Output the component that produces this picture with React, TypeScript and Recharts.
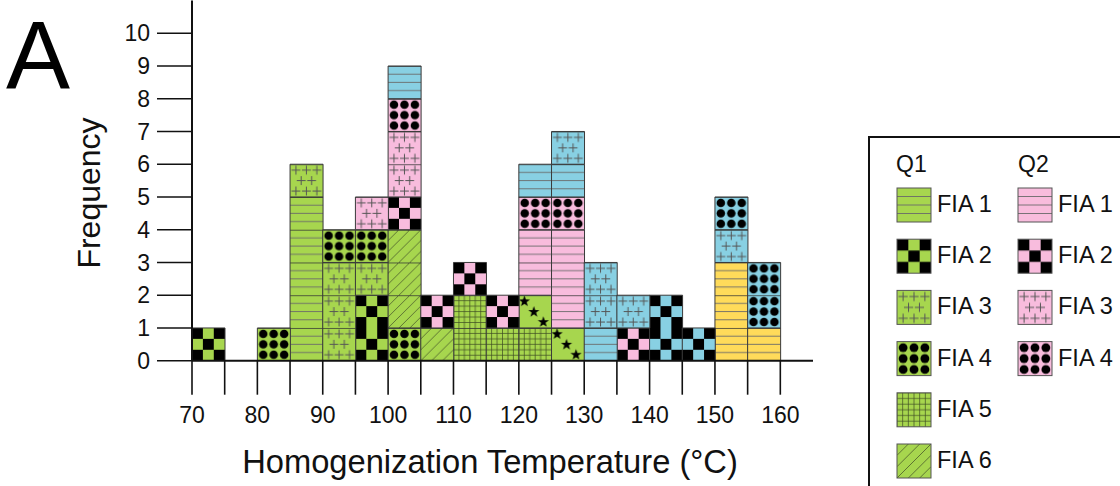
import React from 'react';
import { BarChart, Bar, XAxis, YAxis } from 'recharts';

// ---------------- data ----------------
const binStarts = [70, 75, 80, 85, 90, 95, 100, 105, 110, 115, 120, 125, 130, 135, 140, 145, 150, 155];
const binWidth = 5;
const xTickValues = [70, 75, 80, 85, 90, 95, 100, 105, 110, 115, 120, 125, 130, 135, 140, 145, 150, 155, 160];
const yTickValues = [0, 1, 2, 3, 4, 5, 6, 7, 8, 9, 10];

//                70 75 80 85 90 95 100 105 110 115 120 125 130 135 140 145 150 155
const q1Fia1 = [0, 0, 0, 5, 0, 0, 0, 0, 0, 0, 0, 0, 0, 0, 0, 0, 0, 0];
const q1Fia2 = [1, 0, 0, 0, 0, 2, 0, 0, 0, 0, 0, 0, 0, 0, 0, 0, 0, 0];
const q1Fia3 = [0, 0, 0, 1, 3, 1, 0, 0, 0, 0, 0, 0, 0, 0, 0, 0, 0, 0];
const q1Fia4 = [0, 0, 1, 0, 1, 1, 1, 0, 0, 0, 0, 0, 0, 0, 0, 0, 0, 0];
const q1Fia5 = [0, 0, 0, 0, 0, 0, 0, 0, 2, 1, 1, 0, 0, 0, 0, 0, 0, 0];
const q1Fia6 = [0, 0, 0, 0, 0, 0, 3, 1, 0, 0, 0, 0, 0, 0, 0, 0, 0, 0];
const q1Fia7 = [0, 0, 0, 0, 0, 0, 0, 0, 0, 0, 1, 1, 0, 0, 0, 0, 0, 0];
const q2Fia1 = [0, 0, 0, 0, 0, 0, 0, 0, 0, 0, 2, 3, 0, 0, 0, 0, 0, 0];
const q2Fia2 = [0, 0, 0, 0, 0, 0, 1, 1, 1, 1, 0, 0, 0, 1, 0, 0, 0, 0];
const q2Fia3 = [0, 0, 0, 0, 0, 1, 2, 0, 0, 0, 0, 0, 0, 0, 0, 0, 0, 0];
const q2Fia4 = [0, 0, 0, 0, 0, 0, 1, 0, 0, 0, 1, 1, 0, 0, 0, 0, 0, 0];
const q3Fia1 = [0, 0, 0, 0, 0, 0, 0, 0, 0, 0, 0, 0, 0, 0, 0, 0, 3, 1];
const q4Fia1 = [0, 0, 0, 0, 0, 0, 1, 0, 0, 0, 1, 1, 1, 0, 0, 0, 0, 0];
const q4Fia2 = [0, 0, 0, 0, 0, 0, 0, 0, 0, 0, 0, 0, 0, 0, 2, 1, 0, 0];
const q4Fia3 = [0, 0, 0, 0, 0, 0, 0, 0, 0, 0, 0, 1, 2, 1, 0, 0, 1, 0];
const q4Fia4 = [0, 0, 0, 0, 0, 0, 0, 0, 0, 0, 0, 0, 0, 0, 0, 0, 1, 2];

const legendQ1Keys = ['q1Fia1', 'q1Fia2', 'q1Fia3', 'q1Fia4', 'q1Fia5', 'q1Fia6'];
const legendQ2Keys = ['q2Fia1', 'q2Fia2', 'q2Fia3', 'q2Fia4'];
const legendQ1Labels = ['FIA 1', 'FIA 2', 'FIA 3', 'FIA 4', 'FIA 5', 'FIA 6'];
const legendQ2Labels = ['FIA 1', 'FIA 2', 'FIA 3', 'FIA 4'];

// ---------------- styles ----------------
const GREEN = '#a7d64e';
const PINK = '#f8bcdd';
const YELLOW = '#ffdb5a';
const BLUE = '#88d0e3';

type Kind = 'lines' | 'checker' | 'plus' | 'dots' | 'grid' | 'hatch' | 'stars';

const seriesList: { key: string; name: string; values: number[]; kind: Kind; color: string }[] = [
  { key: 'q1Fia1', name: 'Q1 FIA 1', values: q1Fia1, kind: 'lines', color: GREEN },
  { key: 'q1Fia2', name: 'Q1 FIA 2', values: q1Fia2, kind: 'checker', color: GREEN },
  { key: 'q1Fia3', name: 'Q1 FIA 3', values: q1Fia3, kind: 'plus', color: GREEN },
  { key: 'q1Fia4', name: 'Q1 FIA 4', values: q1Fia4, kind: 'dots', color: GREEN },
  { key: 'q1Fia5', name: 'Q1 FIA 5', values: q1Fia5, kind: 'grid', color: GREEN },
  { key: 'q1Fia6', name: 'Q1 FIA 6', values: q1Fia6, kind: 'hatch', color: GREEN },
  { key: 'q1Fia7', name: 'Q1 FIA 7', values: q1Fia7, kind: 'stars', color: GREEN },
  { key: 'q2Fia1', name: 'Q2 FIA 1', values: q2Fia1, kind: 'lines', color: PINK },
  { key: 'q2Fia2', name: 'Q2 FIA 2', values: q2Fia2, kind: 'checker', color: PINK },
  { key: 'q2Fia3', name: 'Q2 FIA 3', values: q2Fia3, kind: 'plus', color: PINK },
  { key: 'q2Fia4', name: 'Q2 FIA 4', values: q2Fia4, kind: 'dots', color: PINK },
  { key: 'q3Fia1', name: 'Q3 FIA 1', values: q3Fia1, kind: 'lines', color: YELLOW },
  { key: 'q4Fia1', name: 'Q4 FIA 1', values: q4Fia1, kind: 'lines', color: BLUE },
  { key: 'q4Fia2', name: 'Q4 FIA 2', values: q4Fia2, kind: 'checker', color: BLUE },
  { key: 'q4Fia3', name: 'Q4 FIA 3', values: q4Fia3, kind: 'plus', color: BLUE },
  { key: 'q4Fia4', name: 'Q4 FIA 4', values: q4Fia4, kind: 'dots', color: BLUE },
];

const table = binStarts.map((s, i) => {
  const row: Record<string, number> = { mid: s + binWidth / 2 };
  seriesList.forEach((sr) => {
    row[sr.key] = sr.values[i];
  });
  return row;
});

// ---------------- layout ----------------
const W = 1120;
const H = 486;
const PLOT_LEFT = 192;
const PLOT_RIGHT = 813;
const PLOT_TOP = 0.5;
const PLOT_BOTTOM = 360.7;
const X_DOMAIN: [number, number] = [70, 165];
const Y_DOMAIN: [number, number] = [0, 11];
const TILE_W = ((PLOT_RIGHT - PLOT_LEFT) * binWidth) / (X_DOMAIN[1] - X_DOMAIN[0]);
const TILE_H = (PLOT_BOTTOM - PLOT_TOP) / (Y_DOMAIN[1] - Y_DOMAIN[0]);
const FONT = '"Liberation Sans", Arial, Helvetica, sans-serif';

function starPath(cx: number, cy: number, R: number, r: number) {
  let d = '';
  for (let i = 0; i < 10; i++) {
    const ang = -Math.PI / 2 + (i * Math.PI) / 5;
    const rad = i % 2 === 0 ? R : r;
    d += (i === 0 ? 'M' : 'L') + (cx + rad * Math.cos(ang)).toFixed(2) + ',' + (cy + rad * Math.sin(ang)).toFixed(2);
  }
  return d + 'Z';
}

function tileContent(kind: Kind, color: string, w: number, h: number, withBorder: boolean) {
  const border = withBorder ? <line x1={0} y1={0} x2={w} y2={0} stroke="#333" strokeWidth={1.6} /> : null;
  const bg = <rect x={0} y={0} width={w} height={h} fill={color} />;
  switch (kind) {
    case 'lines':
      return (
        <>
          {bg}
          {[0.25, 0.5, 0.75].map((f) => (
            <line key={f} x1={0} x2={w} y1={h * f} y2={h * f} stroke="#6a6a6a" strokeWidth={0.9} />
          ))}
          {border}
        </>
      );
    case 'checker': {
      const cw = w / 3;
      const ch = h / 3;
      return (
        <>
          {bg}
          {[
            [0, 0],
            [2, 0],
            [1, 1],
            [0, 2],
            [2, 2],
          ].map(([i, j]) => (
            <rect key={`${i}-${j}`} x={i * cw} y={j * ch} width={cw} height={ch} fill="#000" />
          ))}
        </>
      );
    }
    case 'plus': {
      const pts = [
        [0.18, 0.18],
        [0.5, 0.18],
        [0.82, 0.18],
        [0.34, 0.5],
        [0.66, 0.5],
        [0.18, 0.82],
        [0.5, 0.82],
        [0.82, 0.82],
      ];
      const a = w * 0.135;
      return (
        <>
          {bg}
          {pts.map(([px, py], k) => (
            <g key={k} stroke="#555" strokeWidth={1}>
              <line x1={px * w - a} x2={px * w + a} y1={py * h} y2={py * h} />
              <line x1={px * w} x2={px * w} y1={py * h - a} y2={py * h + a} />
            </g>
          ))}
          {border}
        </>
      );
    }
    case 'dots': {
      const ps = [0.18, 0.5, 0.82];
      return (
        <>
          {bg}
          {ps.map((py) =>
            ps.map((px) => <circle key={`${px}-${py}`} cx={px * w} cy={py * h} r={w * 0.13} fill="#000" />)
          )}
          {border}
        </>
      );
    }
    case 'grid': {
      const n = 6;
      const fr = Array.from({ length: n }, (_, k) => k / n);
      return (
        <>
          {bg}
          {fr.map((f) => (
            <line key={`v${f}`} x1={f * w} x2={f * w} y1={0} y2={h} stroke="#3c4a22" strokeWidth={0.7} />
          ))}
          {fr.map((f) => (
            <line key={`h${f}`} x1={0} x2={w} y1={f * h} y2={f * h} stroke="#3c4a22" strokeWidth={0.7} />
          ))}
          {border}
        </>
      );
    }
    case 'hatch': {
      const cs = [1 / 3, 2 / 3, 1, 4 / 3, 5 / 3];
      return (
        <>
          {bg}
          {cs.map((c) => {
            const C = c * w;
            const x1 = Math.max(0, C - h);
            const y1 = C - x1;
            const x2 = Math.min(w, C);
            const y2 = C - x2;
            return <line key={c} x1={x1} y1={y1} x2={x2} y2={y2} stroke="#4a5a2a" strokeWidth={0.8} />;
          })}
          {border}
        </>
      );
    }
    case 'stars': {
      const pts = [
        [0.17, 0.19],
        [0.46, 0.51],
        [0.75, 0.82],
      ];
      return (
        <>
          {bg}
          {pts.map(([px, py], k) => (
            <path key={k} d={starPath(px * w, py * h, w * 0.18, w * 0.072)} fill="#000" />
          ))}
          {border}
        </>
      );
    }
  }
  return bg;
}

function ChartPatterns() {
  return (
    <svg width={0} height={0} style={{ position: 'absolute', left: 0, top: 0 }}>
      <defs>
        {seriesList.map((s) => (
          <pattern
            key={s.key}
            id={`pat-${s.key}`}
            patternUnits="userSpaceOnUse"
            x={PLOT_LEFT}
            y={PLOT_BOTTOM}
            width={TILE_W}
            height={TILE_H}
          >
            {tileContent(s.kind, s.color, TILE_W, TILE_H, true)}
          </pattern>
        ))}
        {seriesList.map((s) => (
          <pattern
            key={`lg-${s.key}`}
            id={`lg-${s.key}`}
            patternUnits="objectBoundingBox"
            x={0}
            y={0}
            width={1}
            height={1}
          >
            {tileContent(s.kind, s.color, 34, 34, false)}
          </pattern>
        ))}
      </defs>
    </svg>
  );
}

const renderXTitle = (props: any) => {
  const vb = props.viewBox || {};
  const cx = (vb.x ?? PLOT_LEFT) + (vb.width ?? 0) / 2 - 12.5;
  return (
    <text x={cx} y={473} textAnchor="middle" fontSize={32.7} fontFamily={FONT} fill="#111">
      Homogenization Temperature (°C)
    </text>
  );
};

const renderYTitle = () => (
  <text
    x={0}
    y={0}
    transform={`translate(100, 193) rotate(-90)`}
    textAnchor="middle"
    fontSize={32}
    fontFamily={FONT}
    fill="#111"
  >
    Frequency
  </text>
);

function LegendOverlay() {
  const rowY = (i: number) => 188 + i * 51.2;
  const seriesByKey = Object.fromEntries(seriesList.map((s) => [s.key, s]));
  return (
    <svg
      width={W}
      height={H}
      style={{ position: 'absolute', left: 0, top: 0, pointerEvents: 'none', overflow: 'hidden' }}
      fontFamily={FONT}
    >
      <text x={6} y={88} fontSize={96} fill="#000">
        A
      </text>
      <rect x={869} y={137} width={420} height={420} fill="none" stroke="#111" strokeWidth={2} />
      <text x={896} y={172} fontSize={23} fill="#111">
        Q1
      </text>
      <text x={1018} y={172} fontSize={23} fill="#111">
        Q2
      </text>
      {legendQ1Keys.map((k, i) => (
        <g key={k}>
          <rect x={897} y={rowY(i)} width={34} height={34} fill={`url(#lg-${seriesByKey[k].key})`} stroke="#555" strokeWidth={1} />
          <text x={937} y={rowY(i) + 24} fontSize={23.5} fill="#111">
            {legendQ1Labels[i]}
          </text>
        </g>
      ))}
      {legendQ2Keys.map((k, i) => (
        <g key={k}>
          <rect x={1018} y={rowY(i)} width={34} height={34} fill={`url(#lg-${seriesByKey[k].key})`} stroke="#555" strokeWidth={1} />
          <text x={1058} y={rowY(i) + 24} fontSize={23.5} fill="#111">
            {legendQ2Labels[i]}
          </text>
        </g>
      ))}
    </svg>
  );
}

export default function App() {
  return (
    <div style={{ position: 'absolute', left: 0, top: 0, width: W, height: H, overflow: 'hidden', background: '#fff', fontFamily: FONT }}>
      <ChartPatterns />
      <BarChart
        width={W}
        height={H}
        data={table}
        margin={{ top: PLOT_TOP, right: W - PLOT_RIGHT, bottom: 0, left: 0 }}
        barCategoryGap={0}
        barGap={0}
      >
        <XAxis
          type="number"
          dataKey="mid"
          domain={X_DOMAIN}
          ticks={xTickValues}
          interval={0}
          allowDataOverflow
          tickFormatter={(v: number) => (v % 10 === 0 ? String(v) : '')}
          tickSize={34}
          tickMargin={12}
          height={H - PLOT_BOTTOM}
          axisLine={{ stroke: '#111', strokeWidth: 2 }}
          tickLine={{ stroke: '#111', strokeWidth: 1.6 }}
          tick={{ fill: '#111', fontSize: 23, fontFamily: FONT }}
          label={renderXTitle}
        />
        <YAxis
          type="number"
          domain={Y_DOMAIN}
          ticks={yTickValues}
          interval={0}
          allowDataOverflow
          width={PLOT_LEFT}
          tickSize={35}
          tickMargin={7}
          axisLine={{ stroke: '#111', strokeWidth: 2 }}
          tickLine={{ stroke: '#111', strokeWidth: 1.6 }}
          tick={{ fill: '#111', fontSize: 23, fontFamily: FONT }}
          label={renderYTitle}
        />
        {seriesList.map((s) => (
          <Bar
            key={s.key}
            dataKey={s.key}
            name={s.name}
            stackId="all"
            fill={`url(#pat-${s.key})`}
            stroke="#3a3a3a"
            strokeWidth={1}
            isAnimationActive={false}
          />
        ))}
      </BarChart>
      <LegendOverlay />
    </div>
  );
}
